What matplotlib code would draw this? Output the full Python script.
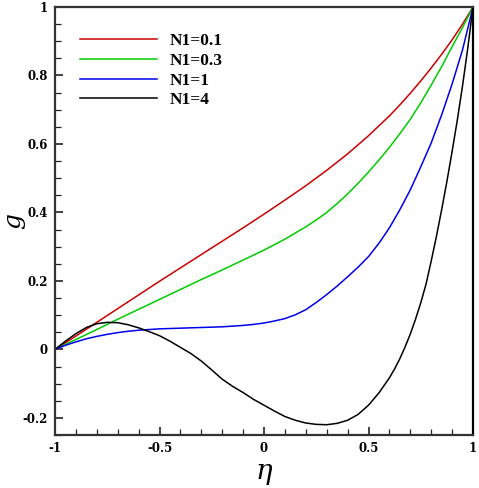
import matplotlib
matplotlib.use("Agg")
import matplotlib.pyplot as plt
from matplotlib.ticker import MultipleLocator

eta_r = [-1.0, -0.9, -0.8, -0.7, -0.6, -0.5, -0.4, -0.3, -0.2, -0.1, 0.0,
         0.1, 0.2, 0.3, 0.4, 0.5, 0.6, 0.65, 0.7, 0.75, 0.8, 0.85, 0.9, 0.95, 1.0]
g_n01 = [0.0, 0.039, 0.079, 0.119, 0.159, 0.199, 0.238, 0.277, 0.316, 0.355, 0.395,
         0.436, 0.478, 0.523, 0.571, 0.624, 0.682, 0.714, 0.748, 0.784, 0.822, 0.862,
         0.904, 0.95, 1.0]

eta_g = [-1.0, -0.9, -0.8, -0.7, -0.6, -0.5, -0.4, -0.3, -0.2, -0.1, 0.0, 0.1, 0.2,
         0.25, 0.3, 0.35, 0.4, 0.45, 0.5, 0.55, 0.6, 0.65, 0.7, 0.75, 0.8, 0.85, 0.9,
         0.95, 1.0]
g_n03 = [0.0, 0.029, 0.058, 0.088, 0.117, 0.146, 0.175, 0.204, 0.232, 0.261, 0.29,
         0.322, 0.358, 0.378, 0.40, 0.426, 0.454, 0.485, 0.518, 0.553, 0.59, 0.63, 0.672,
         0.72, 0.772, 0.826, 0.884, 0.94, 1.0]

eta_b = [-1.0, -0.95, -0.9, -0.85, -0.8, -0.75, -0.7, -0.65, -0.6, -0.55, -0.5, -0.4,
         -0.3, -0.2, -0.1, -0.05, 0.0, 0.05, 0.1, 0.15, 0.2, 0.25, 0.3, 0.35, 0.4, 0.45,
         0.5, 0.55, 0.6, 0.65, 0.7, 0.75, 0.8, 0.85, 0.9, 0.95, 1.0]
g_n1 = [0.0, 0.012, 0.022, 0.031, 0.038, 0.044, 0.049, 0.053, 0.056, 0.058, 0.06, 0.062,
        0.064, 0.066, 0.07, 0.073, 0.077, 0.083, 0.09, 0.101, 0.116, 0.137, 0.16, 0.185,
        0.212, 0.24, 0.271, 0.31, 0.355, 0.408, 0.466, 0.533, 0.603, 0.685, 0.775, 0.875, 1.0]

eta_k = [-1.0, -0.95, -0.9, -0.85, -0.8, -0.75, -0.7, -0.65, -0.6, -0.55, -0.5, -0.45,
         -0.4, -0.35, -0.3, -0.25, -0.2, -0.15, -0.1, -0.05, 0.0, 0.05, 0.1, 0.15, 0.2,
         0.25, 0.3, 0.35, 0.4, 0.45, 0.5, 0.55, 0.6, 0.625, 0.65, 0.675, 0.7, 0.725, 0.75,
         0.775, 0.8, 0.825, 0.85, 0.875, 0.9, 0.925, 0.95, 0.975, 1.0]
g_n4 = [0.0, 0.024, 0.046, 0.064, 0.075, 0.079, 0.078, 0.072, 0.063, 0.052, 0.04, 0.024,
        0.006, -0.012, -0.034, -0.06, -0.087, -0.108, -0.126, -0.146, -0.163, -0.18, -0.196,
        -0.207, -0.215, -0.219, -0.22, -0.216, -0.207, -0.19, -0.163, -0.127, -0.083,
        -0.057, -0.027, 0.007, 0.045, 0.088, 0.136, 0.19, 0.258, 0.33, 0.408, 0.49, 0.578,
        0.67, 0.77, 0.88, 1.0]

labels = ["N1=0.1", "N1=0.3", "N1=1", "N1=4"]
colors = ["#cc0000", "#00cc00", "#0000ee", "#000000"]

fig = plt.figure(figsize=(4.79, 4.88), dpi=100)
ax = fig.add_axes([55 / 479, 1 - 435 / 488, (473 - 55) / 479, (435 - 7) / 488])

series = [(eta_r, g_n01), (eta_g, g_n03), (eta_b, g_n1), (eta_k, g_n4)]
for (xs, ys), lab, c in zip(series, labels, colors):
    ax.plot(xs, ys, color=c, lw=1.1, label=lab)

ax.set_xlim(-1, 1)
ax.set_ylim(-0.25, 1)
ax.xaxis.set_minor_locator(MultipleLocator(0.1))
ax.yaxis.set_minor_locator(MultipleLocator(0.05))
ax.set_xticks([-1, -0.5, 0, 0.5, 1])
ax.set_xticklabels(["-1", "-0.5", "0", "0.5", "1"])
ax.set_yticks([-0.2, 0, 0.2, 0.4, 0.6, 0.8, 1])
ax.set_yticklabels(["-0.2", "0", "0.2", "0.4", "0.6", "0.8", "1"])

ax.tick_params(which="both", direction="in", top=False, right=False, color="#222222")
ax.tick_params(which="major", length=6, width=1.2, pad=5)
ax.tick_params(which="minor", length=4, width=0.9)
for lab in ax.get_xticklabels() + ax.get_yticklabels():
    lab.set_fontfamily("DejaVu Serif")
    lab.set_fontweight("bold")
    lab.set_fontsize(8.5)
for s in ax.spines.values():
    s.set_linewidth(1.6)
    s.set_color("#333333")
ax.spines["right"].set_color("#000000")

ax.set_xlabel("η", fontfamily="DejaVu Serif", fontstyle="italic", fontsize=20, labelpad=2)
ax.set_ylabel("g", fontfamily="DejaVu Serif", fontstyle="italic", fontsize=18)
ax.yaxis.set_label_coords(-0.071, 0.5)

leg = ax.legend(loc="upper left", bbox_to_anchor=(0.044, 0.955), frameon=False,
                prop={"family": "Liberation Serif", "weight": "bold", "size": 12.5},
                handlelength=4.4, handletextpad=0.75, labelspacing=0.2, borderaxespad=0)

fig.savefig("out.png", dpi=100)
